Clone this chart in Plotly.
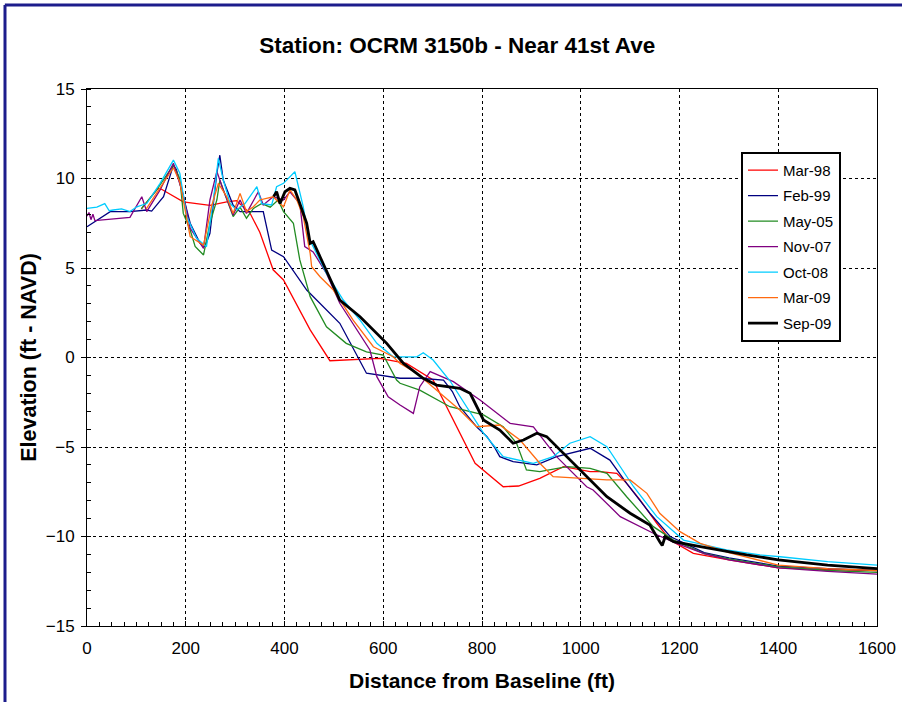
import plotly.graph_objects as go

# ---- data (distance ft, elevation ft NAVD) ----
mar98_x = [110, 128, 144, 151, 195, 249, 283, 303, 330, 350, 377, 398, 452, 492, 593, 647, 701, 786, 843, 874, 917, 965, 1019, 1039, 1073, 1093, 1120, 1154, 1181, 1228, 1300, 1400, 1500, 1600]
mar98_y = [8.3, 8.9, 9.45, 9.4, 8.7, 8.5, 8.7, 8.76, 8.07, 7.0, 4.9, 4.33, 1.54, -0.18, -0.05, -0.33, -1.26, -5.91, -7.22, -7.18, -6.75, -6.1, -6.38, -6.38, -6.47, -7.03, -7.96, -9.26, -10.2, -10.94, -11.3, -11.75, -11.85, -11.9]

feb99_x = [0, 47, 87, 121, 131, 155, 175, 181, 195, 209, 229, 239, 249, 263, 269, 276, 296, 310, 357, 374, 398, 445, 512, 566, 634, 674, 722, 740, 755, 775, 790, 810, 825, 836, 863, 911, 951, 1019, 1046, 1059, 1093, 1140, 1181, 1250, 1300, 1400, 1500, 1600]
feb99_y = [7.3, 8.15, 8.15, 8.24, 8.18, 8.98, 10.75, 10.5, 9.0, 7.5, 6.38, 6.2, 6.94, 10.3, 11.3, 9.9, 8.5, 8.15, 8.15, 6.0, 5.63, 3.77, 1.91, -0.88, -1.16, -1.16, -1.26, -1.9, -2.75, -3.4, -3.9, -4.42, -5.0, -5.54, -5.82, -6.0, -5.54, -5.07, -5.54, -5.73, -7.03, -8.7, -10.0, -10.9, -11.2, -11.65, -11.8, -11.9]

may05_x = [110, 141, 175, 188, 195, 209, 219, 236, 249, 263, 269, 283, 296, 310, 323, 337, 354, 371, 387, 398, 418, 431, 452, 485, 525, 566, 600, 627, 634, 674, 735, 803, 843, 870, 890, 917, 972, 1019, 1053, 1093, 1147, 1188, 1250, 1300, 1400, 1500, 1600]
may05_y = [8.3, 9.36, 10.75, 10.0, 8.05, 7.12, 6.2, 5.73, 7.5, 8.8, 9.9, 8.8, 7.87, 8.4, 7.78, 8.33, 8.6, 8.4, 8.8, 8.15, 7.5, 5.45, 3.4, 1.72, 0.79, 0.32, 0.14, -1.26, -1.44, -1.82, -2.75, -3.21, -3.87, -4.79, -6.28, -6.38, -6.1, -6.19, -6.47, -7.78, -9.45, -10.2, -10.95, -11.25, -11.7, -11.9, -12.0]

nov07_x = [0, 4, 8, 12, 16, 50, 87, 111, 121, 148, 175, 195, 209, 236, 249, 263, 276, 296, 310, 323, 347, 357, 377, 398, 411, 431, 441, 458, 485, 512, 546, 573, 587, 610, 634, 661, 674, 695, 742, 796, 857, 904, 951, 1012, 1025, 1080, 1147, 1194, 1250, 1300, 1400, 1500, 1600]
nov07_y = [7.9, 8.1, 7.7, 8.0, 7.65, 7.75, 7.83, 8.98, 8.15, 9.36, 10.85, 9.08, 7.22, 6.1, 8.8, 10.4, 9.36, 7.96, 8.8, 8.05, 9.26, 8.52, 8.98, 8.8, 9.26, 8.6, 6.2, 5.9, 4.7, 3.03, 1.54, 0.42, -1.07, -2.2, -2.65, -3.12, -1.63, -0.79, -1.35, -2.37, -3.68, -3.87, -5.54, -7.22, -7.4, -8.89, -9.82, -10.38, -10.95, -11.3, -11.75, -11.95, -12.1]

oct08_x = [0, 20, 36, 45, 53, 70, 87, 101, 121, 148, 175, 188, 202, 222, 242, 256, 266, 276, 290, 303, 320, 344, 354, 374, 384, 398, 421, 428, 438, 448, 485, 519, 553, 587, 620, 668, 681, 701, 735, 803, 843, 904, 944, 978, 1019, 1053, 1107, 1154, 1208, 1295, 1363, 1404, 1500, 1600]
oct08_y = [8.33, 8.4, 8.6, 8.2, 8.24, 8.3, 8.15, 8.42, 8.6, 9.73, 11.03, 10.29, 7.87, 6.66, 6.19, 8.8, 11.13, 9.92, 8.6, 8.24, 8.6, 9.54, 8.6, 8.52, 9.54, 9.73, 10.38, 9.54, 8.42, 6.75, 4.7, 3.21, 2.09, 0.79, 0.04, 0.04, 0.27, -0.14, -1.3, -4.23, -5.54, -5.91, -5.54, -4.79, -4.42, -4.98, -7.22, -8.89, -10.2, -10.75, -11.03, -11.13, -11.4, -11.6]

mar09_x = [120, 148, 175, 188, 209, 236, 252, 266, 283, 296, 310, 323, 337, 350, 377, 398, 411, 425, 438, 452, 455, 472, 499, 539, 580, 620, 634, 668, 715, 755, 789, 836, 877, 917, 944, 999, 1053, 1100, 1134, 1160, 1201, 1242, 1300, 1400, 1500, 1600]
mar09_y = [8.3, 9.5, 10.6, 9.8, 6.75, 6.28, 8.42, 9.73, 8.98, 8.05, 9.17, 8.15, 8.42, 8.8, 8.98, 8.42, 9.36, 8.8, 7.87, 5.82, 5.07, 4.51, 3.77, 2.09, 0.6, 0.04, -0.33, -0.88, -2.0, -2.93, -3.87, -3.77, -4.61, -5.91, -6.66, -6.75, -6.84, -6.84, -7.59, -8.7, -9.73, -10.38, -10.9, -11.6, -11.8, -11.9]

sep09_x = [378, 384, 391, 401, 411, 421, 431, 445, 452, 458, 472, 512, 553, 573, 607, 641, 681, 708, 755, 776, 803, 836, 863, 884, 911, 931, 965, 999, 1053, 1100, 1140, 1160, 1165, 1171, 1188, 1242, 1336, 1400, 1500, 1600]
sep09_y = [9.0, 9.26, 8.6, 9.26, 9.45, 9.36, 8.6, 7.5, 6.38, 6.47, 5.63, 3.21, 2.28, 1.72, 0.79, -0.33, -1.16, -1.54, -1.72, -2.0, -3.49, -4.05, -4.79, -4.61, -4.23, -4.42, -5.35, -6.28, -7.78, -8.7, -9.36, -10.29, -10.5, -10.01, -10.29, -10.57, -11.03, -11.3, -11.6, -11.8]

series = [
    ("Mar-98", mar98_x, mar98_y, "#ff0000", 1.3),
    ("Feb-99", feb99_x, feb99_y, "#000080", 1.3),
    ("May-05", may05_x, may05_y, "#228b22", 1.3),
    ("Nov-07", nov07_x, nov07_y, "#800080", 1.3),
    ("Oct-08", oct08_x, oct08_y, "#00ccff", 1.3),
    ("Mar-09", mar09_x, mar09_y, "#ff6a10", 1.3),
    ("Sep-09", sep09_x, sep09_y, "#000000", 2.8),
]

fig = go.Figure()
for name, xs, ys, col, w in series:
    fig.add_trace(go.Scatter(x=xs, y=ys, mode="lines", name=name, legendgroup=name,
                             line=dict(color=col, width=w)))

font = "Liberation Sans, Arial, sans-serif"
axis_common = dict(showline=True, linecolor="black", linewidth=1, mirror=True,
                   showgrid=True, gridcolor="black", griddash="dot", gridwidth=1,
                   zeroline=False, tickfont=dict(family=font, size=17, color="black"),
                   ticklen=5, tickcolor="black", automargin=False)

fig.update_layout(
    width=902, height=702,
    margin=dict(l=87, r=25, t=89, b=76),
    paper_bgcolor="white", plot_bgcolor="white",
    title=dict(text="<b>Station: OCRM 3150b - Near 41st Ave</b>", x=0.507, xanchor="center",
               y=0.936, yanchor="middle", font=dict(family=font, size=22.5, color="black")),
    xaxis=dict(range=[0, 1600], dtick=200, tick0=0, ticks="inside", ticklabelstandoff=7,
               minor=dict(dtick=25, ticks="inside", ticklen=4, tickcolor="black", showgrid=False),
               title=dict(text="<b>Distance from Baseline (ft)</b>", font=dict(family=font, size=21, color="black"), standoff=15),
               **axis_common),
    yaxis=dict(range=[-15, 15], dtick=5, tick0=0, ticks="outside", ticklabelstandoff=3,
               minor=dict(dtick=1, ticks="inside", ticklen=4, tickcolor="black", showgrid=False),
               title=dict(text="<b>Elevation (ft - NAVD)</b>", font=dict(family=font, size=21.5, color="black"), standoff=3),
               **axis_common),
    legend=dict(x=(741 - 87) / 790, y=0.883, xanchor="left", yanchor="top",
                bordercolor="black", borderwidth=2, bgcolor="white",
                font=dict(family=font, size=15, color="black"),
                tracegroupgap=3, itemwidth=30),
    showlegend=True,
)

# navy frame along the top and left edges of the page
fig.add_shape(type="line", xref="paper", yref="paper", x0=-0.104, x1=1.05, y0=1.1564, y1=1.1564,
              line=dict(color="#1c1c8c", width=3))
fig.add_shape(type="line", xref="paper", yref="paper", x0=-0.1038, x1=-0.1038, y0=-0.16, y1=1.1564,
              line=dict(color="#1c1c8c", width=3))

fig.write_html("out.html")
